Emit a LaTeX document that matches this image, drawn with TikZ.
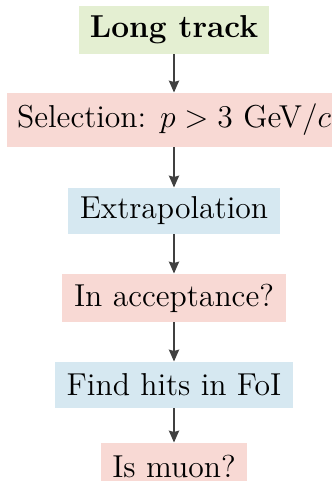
\documentclass[tikz,border=0pt]{standalone}
\usetikzlibrary{arrows.meta}
\definecolor{boxgreen}{RGB}{228,239,210}
\definecolor{boxpink}{RGB}{248,217,212}
\definecolor{boxblue}{RGB}{214,232,241}
\definecolor{flowgray}{RGB}{64,64,64}
% one drawing unit
\newcommand\du{0.4545pt}
\tikzset{
  stage/.style={inner sep=0pt, align=center, font=\fontsize{14.4}{17}\selectfont},
  startbox/.style={stage, fill=boxgreen, font=\fontsize{14.4}{17}\selectfont\bfseries},
  cutbox/.style={stage, fill=boxpink},
  procbox/.style={stage, fill=boxblue},
  flow/.style={draw=flowgray, line width=0.9pt, -{Stealth[length=5.4pt,width=4.6pt,inset=0.6pt]}}
}
\begin{document}
\begin{tikzpicture}[x=\du, y=-\du]
  \useasboundingbox (0,0) rectangle (332,481);
  \clip (0,0) rectangle (332,481);
  \node[startbox, minimum width=190*\du, minimum height=48*\du] (track) at (174,30) {Long track};
  \node[cutbox, minimum width=334*\du, minimum height=54*\du] (sel) at (174,120) {Selection: $p > 3$~GeV/$c$};
  \node[procbox, minimum width=212*\du, minimum height=46*\du] (extrap) at (174,211) {Extrapolation};
  \node[cutbox, minimum width=224*\du, minimum height=48*\du] (acc) at (174,298) {In acceptance?};
  \node[procbox, minimum width=238*\du, minimum height=46*\du] (hits) at (174,385) {Find hits in FoI};
  \node[cutbox, minimum width=146*\du, minimum height=46*\du] (muon) at (174,466) {Is muon?};
  \draw[flow] (track) -- (sel);
  \draw[flow] (sel) -- (extrap);
  \draw[flow] (extrap) -- (acc);
  \draw[flow] (acc) -- (hits);
  \draw[flow] (hits) -- (muon);
\end{tikzpicture}
\end{document}
